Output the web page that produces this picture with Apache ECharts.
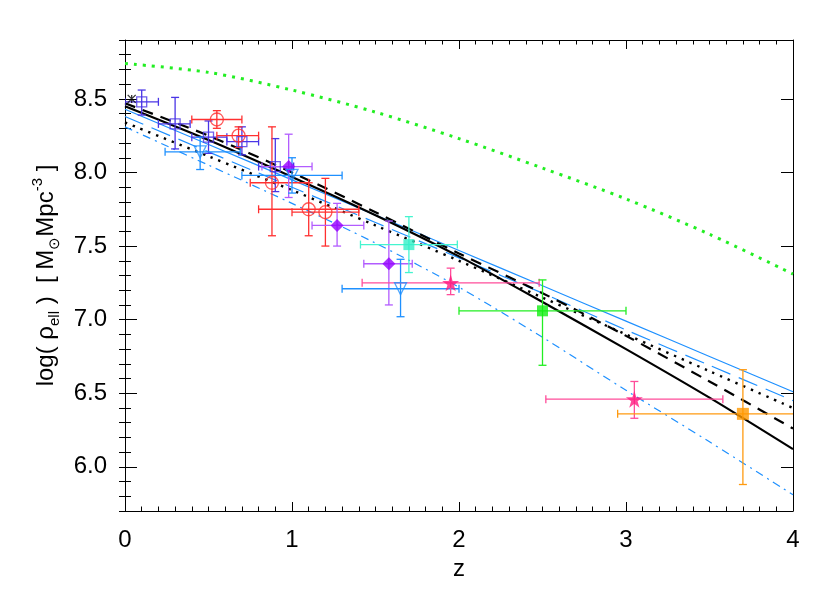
<!DOCTYPE html>
<html>
<head>
<meta charset="utf-8">
<script src="https://cdn.jsdelivr.net/npm/echarts@6/dist/echarts.min.js"></script>
<style>html,body{margin:0;padding:0;background:#fff}#chart{width:830px;height:593px}</style>
</head>
<body>
<div id="chart"></div>
<script>
const FONT = 'Liberation Sans, Arial, sans-serif';

// model curves, sampled on zGrid
const zGrid = [0, 0.5, 1, 1.5, 2, 2.5, 3, 3.5, 4];
const blackSolid = [8.45, 8.22, 7.97, 7.71, 7.43, 7.12, 6.80, 6.47, 6.12];
const blackDashed = [8.47, 8.25, 8.00, 7.73, 7.45, 7.18, 6.89, 6.58, 6.26];
const blackDotted = [8.34, 8.11, 7.88, 7.64, 7.40, 7.15, 6.90, 6.65, 6.40];
const blueSolid = [8.43, 8.19, 7.95, 7.71, 7.47, 7.23, 6.99, 6.75, 6.51];
const blueDashed = [8.38, 8.14, 7.90, 7.66, 7.42, 7.18, 6.93, 6.69, 6.45];
const blueDashDot = [8.31, 8.05, 7.79, 7.52, 7.22, 6.88, 6.52, 6.17, 5.81];
const greenDotted = [8.74, 8.68, 8.56, 8.41, 8.23, 8.03, 7.82, 7.58, 7.31];

// data points: [z, value, zLow, zHigh, valueLow, valueHigh]
const blueSquares = [
  [0.10, 8.48, 0.00, 0.20, 8.39, 8.56],
  [0.30, 8.33, 0.20, 0.39, 8.16, 8.51],
  [0.50, 8.24, 0.40, 0.61, 8.13, 8.35],
  [0.70, 8.21, 0.61, 0.80, 8.12, 8.31],
  [0.90, 8.04, 0.80, 1.01, 7.87, 8.23]
];
const redCircles = [
  [0.55, 8.36, 0.40, 0.70, 8.30, 8.42],
  [0.68, 8.25, 0.55, 0.80, 8.17, 8.31],
  [0.88, 7.93, 0.75, 1.10, 7.57, 8.31],
  [1.10, 7.75, 0.80, 1.40, 7.57, 7.93],
  [1.20, 7.73, 1.00, 1.40, 7.50, 7.96]
];
const purpleDiamonds = [
  [0.98, 8.04, 0.82, 1.12, 7.83, 8.26],
  [1.27, 7.64, 1.12, 1.43, 7.50, 7.79],
  [1.58, 7.38, 1.43, 1.72, 7.10, 7.67]
];
const blueTriangles = [
  [0.45, 8.14, 0.24, 0.69, 8.02, 8.24],
  [1.00, 7.98, 0.70, 1.30, 7.86, 8.10],
  [1.65, 7.21, 1.30, 2.00, 7.02, 7.41]
];
const cyanSquares = [[1.70, 7.51, 1.41, 1.99, 7.32, 7.70]];
const pinkStars = [
  [1.95, 7.25, 1.42, 2.48, 7.17, 7.35],
  [3.05, 6.46, 2.52, 3.58, 6.33, 6.58]
];
const greenSquares = [[2.50, 7.06, 2.00, 3.00, 6.69, 7.27]];
const orangeSquares = [[3.70, 6.36, 2.95, 4.45, 5.88, 6.66]];
const crossPoints = [[0.04, 8.50]];

const yTicks = [6.0, 6.5, 7.0, 7.5, 8.0, 8.5];

const STAR = 'path://M50,0 L61,35 L98,35 L68,57 L79,91 L50,70 L21,91 L32,57 L2,35 L39,35 Z';
const CROSS = 'path://M0,0 L10,10 M10,0 L0,10 M5,0 L5,10';

function curve(vals, color, width, type) {
  return {
    type: 'line', data: zGrid.map((z, i) => [z, vals[i]]), smooth: 0.3,
    showSymbol: false, silent: true, z: 2,
    lineStyle: {color: color, width: width, type: type, cap: 'butt'}
  };
}

function errorBars(data, color) {
  return {
    type: 'custom', data: data, clip: true, z: 3, silent: true,
    encode: {x: 0, y: 1},
    renderItem: function (params, api) {
      const z = api.value(0), v = api.value(1);
      const l = api.coord([api.value(2), v]), r = api.coord([api.value(3), v]);
      const b = api.coord([z, api.value(4)]), t = api.coord([z, api.value(5)]);
      const c = 4;
      const seg = (x1, y1, x2, y2) => ({
        type: 'line', shape: {x1, y1, x2, y2},
        style: {stroke: color, lineWidth: 1.3}
      });
      return {type: 'group', children: [
        seg(l[0], l[1], r[0], r[1]),
        seg(l[0], l[1] - c, l[0], l[1] + c),
        seg(r[0], r[1] - c, r[0], r[1] + c),
        seg(b[0], b[1], t[0], t[1]),
        seg(b[0] - c, b[1], b[0] + c, b[1]),
        seg(t[0] - c, t[1], t[0] + c, t[1])
      ]};
    }
  };
}

function markers(data, symbol, size, color, open, rotate) {
  return {
    type: 'scatter', data: data.map(d => [d[0], d[1]]), symbol: symbol,
    symbolSize: size, symbolRotate: rotate || 0, z: 4, silent: true,
    itemStyle: open
      ? {color: 'rgba(0,0,0,0)', borderColor: color, borderWidth: 1.3}
      : {color: color}
  };
}

const tickStyle = {color: '#000', width: 1};

function xAxisDef(pos, labels) {
  return {
    type: 'value', min: 0, max: 4, interval: 1, position: pos,
    axisLine: {show: true, onZero: false, lineStyle: tickStyle},
    axisTick: {show: true, inside: true, length: 9, lineStyle: tickStyle},
    minorTick: {show: true, splitNumber: 10, length: 4.5, lineStyle: tickStyle},
    splitLine: {show: false}, minorSplitLine: {show: false},
    axisLabel: {show: labels, fontSize: 24, color: '#000', margin: 17, fontFamily: FONT},
    name: labels ? 'z' : '', nameLocation: 'middle', nameGap: 46,
    nameTextStyle: {fontSize: 24, color: '#000', fontFamily: FONT}
  };
}

function yMajor(pos, labels) {
  return {
    type: 'value', min: 5.7, max: 8.9, position: pos, offset: 0,
    axisLine: {show: true, onZero: false, lineStyle: tickStyle},
    axisTick: {show: true, inside: true, length: 12, customValues: yTicks, lineStyle: tickStyle},
    splitLine: {show: false},
    axisLabel: {
      show: labels, customValues: yTicks, formatter: v => v.toFixed(1),
      fontSize: 24, color: '#000', margin: 18, fontFamily: FONT
    },
    name: labels ? '{t|log( ρ}{s|ell}{t| )  [ M}{s|⊙}{t|Mpc}{p|-3}{t| ]}' : '',
    nameLocation: 'middle', nameGap: 61, nameRotate: 90,
    nameTextStyle: {
      fontSize: 24, color: '#000', fontFamily: FONT,
      rich: {
        t: {fontSize: 24, lineHeight: 32, fontFamily: FONT, color: '#000'},
        s: {fontSize: 15, lineHeight: 15, verticalAlign: 'bottom', fontFamily: FONT, color: '#000'},
        p: {fontSize: 15, lineHeight: 15, verticalAlign: 'top', fontFamily: FONT, color: '#000'}
      }
    }
  };
}

function yMinor(pos) {
  return {
    type: 'value', min: 5.7, max: 8.9, interval: 0.1, position: pos, offset: 0,
    axisLine: {show: false},
    axisTick: {show: true, inside: true, length: 6, lineStyle: tickStyle},
    splitLine: {show: false},
    axisLabel: {show: false}
  };
}

const chart = echarts.init(document.getElementById('chart'), null, {renderer: 'canvas'});

chart.setOption({
  animation: false,
  backgroundColor: '#fff',
  grid: {left: 125, right: 37, top: 40, bottom: 82},
  xAxis: [xAxisDef('bottom', true), xAxisDef('top', false)],
  yAxis: [yMajor('left', true), yMinor('left'), yMajor('right', false), yMinor('right')],
  series: [
    curve(greenDotted, '#22ee22', 3, [3, 6]),
    curve(blueDashDot, '#1e90ff', 1.2, [8, 5, 2, 5]),
    curve(blueDashed, '#1e90ff', 1.2, [20, 9]),
    curve(blueSolid, '#1e90ff', 1.2, 'solid'),
    curve(blackDotted, '#000', 2.4, [2.4, 6]),
    curve(blackDashed, '#000', 2.2, [11, 8]),
    curve(blackSolid, '#000', 2.2, 'solid'),

    errorBars(blueSquares, '#4a35e6'),
    errorBars(redCircles, '#ff3030'),
    errorBars(purpleDiamonds, '#b25cff'),
    errorBars(blueTriangles, '#1e90ff'),
    errorBars(cyanSquares, '#44f5cf'),
    errorBars(pinkStars, '#ff4d9a'),
    errorBars(greenSquares, '#22ee22'),
    errorBars(orangeSquares, '#ff9a10'),

    markers(blueSquares, 'rect', 10, '#4a35e6', true),
    markers(redCircles, 'circle', 13, '#ff3030', true),
    markers(purpleDiamonds, 'diamond', 13, '#9400ff', false),
    markers(blueTriangles, 'triangle', 12, '#1e90ff', true, 180),
    markers(cyanSquares, 'rect', 11, '#33f0c8', false),
    markers(pinkStars, STAR, 17, '#ff1a80', false),
    markers(greenSquares, 'rect', 11, '#11ee11', false),
    markers(orangeSquares, 'rect', 12, '#ff9900', false),
    markers(crossPoints, CROSS, 8, '#000', true)
  ]
});
</script>
</body>
</html>
